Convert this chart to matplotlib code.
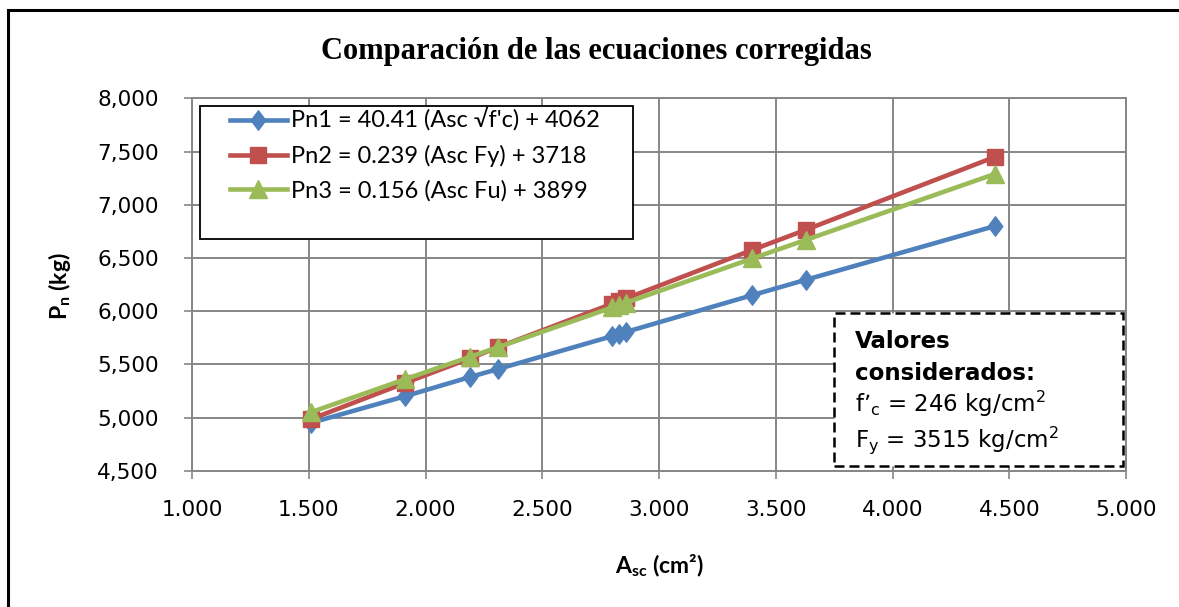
import matplotlib
matplotlib.use("Agg")
import matplotlib.pyplot as plt
from matplotlib.patches import Rectangle
from matplotlib.path import Path
from matplotlib.ticker import MultipleLocator, FuncFormatter

plt.rcParams['mathtext.default'] = 'regular'

# ---- data ----
asc = [1.51, 1.913, 2.19, 2.31, 2.80, 2.83, 2.86, 3.40, 3.63, 4.44]
pn1 = [4950, 5200, 5380, 5455, 5765, 5785, 5805, 6150, 6295, 6800]
pn2 = [4985, 5325, 5555, 5660, 6070, 6095, 6120, 6575, 6765, 7450]
pn3 = [5050, 5360, 5570, 5660, 6035, 6060, 6080, 6495, 6670, 7290]
labels = ["Pn1 = 40.41 (Asc √f'c) + 4062",
          "Pn2 = 0.239 (Asc Fy) + 3718",
          "Pn3 = 0.156 (Asc Fu) + 3899"]
title = "Comparación de las ecuaciones corregidas"
xlabel = "A$_{sc}$ (cm²)"
ylabel = "P$_{n}$ (kg)"
box_lines = ["Valores", "considerados:", "f’$_{c}$ = 246 kg/cm$^{2}$", "F$_{y}$ = 3515 kg/cm$^{2}$"]

BLUE, RED, GREEN = "#4F81BD", "#C0504D", "#9BBB59"
GRID = "#868686"
W, H = 1179, 607

def fx(x):
    return x / W

def fy(y):
    return 1 - y / H

fig = plt.figure(figsize=(W / 100, H / 100), dpi=100)
ax = fig.add_axes([fx(192), fy(470.7), (1126 - 192) / W, (470.7 - 98.3) / H])

diamond = Path([(0, 1), (0.75, 0), (0, -1), (-0.75, 0), (0, 1)],
               [Path.MOVETO, Path.LINETO, Path.LINETO, Path.LINETO, Path.CLOSEPOLY])

lw = 3.3
h1, = ax.plot(asc, pn1, color=BLUE, lw=lw, marker=diamond, ms=14,
              mfc=BLUE, mec=BLUE, zorder=3)
h2, = ax.plot(asc, pn2, color=RED, lw=lw, marker='s', ms=12,
              mfc=RED, mec=RED, zorder=4)
h3, = ax.plot(asc, pn3, color=GREEN, lw=lw, marker='^', ms=13.5,
              mfc=GREEN, mec=GREEN, zorder=5)

ax.set_xlim(1.0, 5.0)
ax.set_ylim(4500, 8000)
ax.xaxis.set_major_locator(MultipleLocator(0.5))
ax.yaxis.set_major_locator(MultipleLocator(500))
ax.xaxis.set_major_formatter(FuncFormatter(lambda v, p: f"{v:.3f}"))
ax.yaxis.set_major_formatter(FuncFormatter(lambda v, p: f"{v:,.0f}"))
ax.grid(True, color=GRID, lw=1.4, zorder=0)
ax.set_axisbelow(True)
for s in ax.spines.values():
    s.set_color(GRID)
    s.set_linewidth(1.4)
ax.tick_params(axis='both', direction='out', length=6, width=1.2, color=GRID,
               labelsize=15.5, labelcolor='black')
ax.tick_params(axis='x', pad=15)
ax.tick_params(axis='y', pad=18)
for t in ax.get_xticklabels() + ax.get_yticklabels():
    t.set_fontfamily('DejaVu Sans')

# title
fig.text(fx(596), fy(52), title, ha='center', va='center',
         fontfamily='Liberation Serif', fontweight='bold', fontsize=22)
# axis labels
fig.text(fx(659), fy(566), xlabel, ha='center', va='center',
         fontfamily=['Lato', 'DejaVu Sans'], fontweight='bold', fontsize=16.5)
fig.text(fx(60), fy(286), ylabel, ha='center', va='center', rotation=90,
         fontfamily=['Lato', 'DejaVu Sans'], fontweight='bold', fontsize=16.5)

# legend
fig.patches.append(Rectangle((fx(200), fy(239)), (633 - 200) / W, (239 - 106) / H,
                             transform=fig.transFigure, fill=True, fc='white',
                             ec='black', lw=1.3, zorder=6))
leg = fig.legend([h1, h2, h3], labels, loc='upper left',
                 bbox_to_anchor=(fx(230), fy(108)), frameon=False,
                 prop={'family': ['Lato', 'DejaVu Sans'], 'size': 17},
                 handlelength=2.4, handletextpad=0.2, labelspacing=0.55,
                 borderpad=0.0, borderaxespad=0.0, markerscale=1.0)
leg.set_zorder(7)

# "Valores considerados" box
fig.patches.append(Rectangle((fx(834), fy(466)), (1123 - 834) / W, (466 - 313) / H,
                             transform=fig.transFigure, fill=True, fc='white',
                             ec='black', lw=1.8, ls=(0, (4, 2)), zorder=6))
ys = [348, 380, 412, 447]
for i, (txt, yy) in enumerate(zip(box_lines, ys)):
    fig.text(fx(855), fy(yy), txt, ha='left', va='baseline',
             fontfamily='DejaVu Sans', fontweight='bold' if i < 2 else 'normal',
             fontsize=16.5, zorder=8)

# outer chart border
fig.patches.append(Rectangle((fx(8), fy(H + 20)), (W + 20) / W, (H + 10) / H,
                             transform=fig.transFigure, fill=False,
                             ec='black', lw=2.2, zorder=10))

fig.savefig("out.png", dpi=100)
